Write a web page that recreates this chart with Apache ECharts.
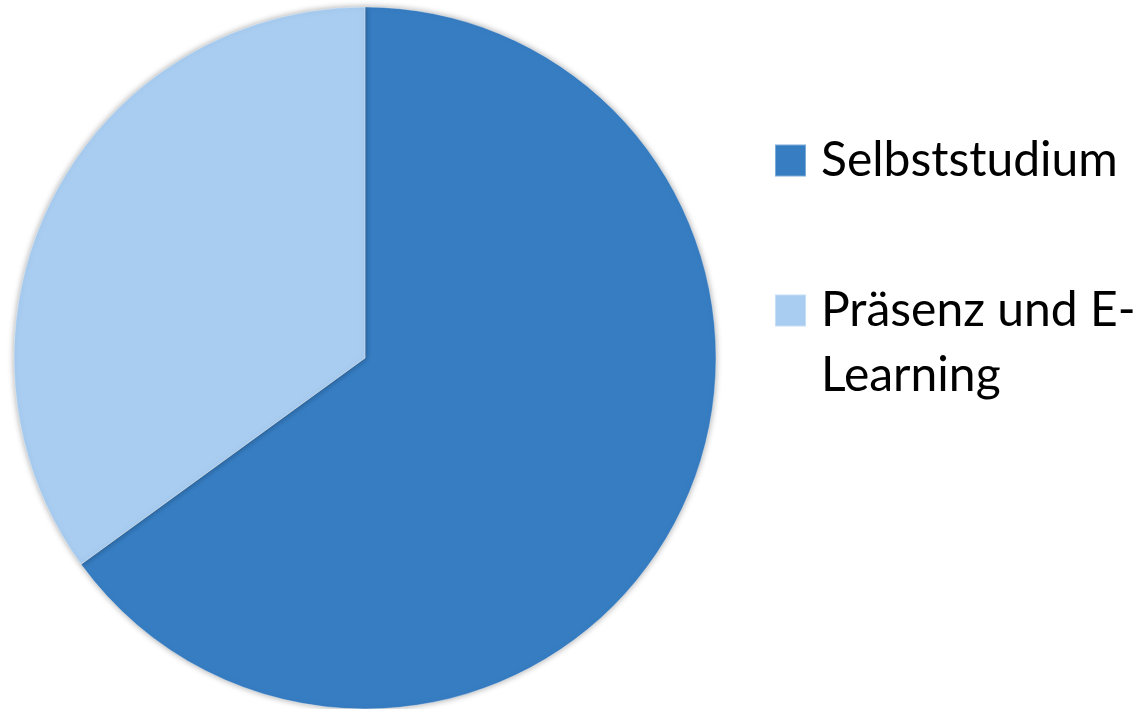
<!DOCTYPE html>
<html>
<head>
<meta charset="utf-8">
<script src="https://cdn.jsdelivr.net/npm/echarts@6/dist/echarts.min.js"></script>
<style>
  html, body { margin: 0; padding: 0; background: #fff; }
  #chart { width: 1143px; height: 709px; }
</style>
</head>
<body>
<div id="chart"></div>
<script>
// Anteile der Lernformen
const categories = ['Selbststudium', 'Präsenz und E-Learning']
const values = [65, 35]
const colors = ['#377dc2', '#a8cdf0']

const chart = echarts.init(document.getElementById('chart'))

const legendText = {
  fontFamily: 'Lato',
  fontSize: 48,
  color: '#000',
  lineHeight: 65,
  rich: {
    s: { width: 10, fontSize: 48, lineHeight: 65 }
  }
}

function iconStyle(c) {
  return {
    color: c,
    borderColor: 'rgba(0,0,0,0.15)',
    borderWidth: 1
  }
}

chart.setOption({
  backgroundColor: '#fff',
  animation: false,
  legend: [{
    orient: 'vertical',
    left: 774,
    top: 128,
    padding: 0,
    itemWidth: 31,
    itemHeight: 32,
    itemGap: 0,
    icon: 'rect',
    data: [categories[0]],
    formatter: function(name) {
      return '{s| }' + name
    },
    textStyle: legendText
  }, {
    orient: 'vertical',
    left: 774,
    top: 213,
    padding: 0,
    itemWidth: 31,
    itemHeight: 32,
    itemGap: 0,
    icon: 'rect',
    data: [categories[1]],
    formatter: function(name) {
      // leere erste Zeile, damit das Symbol an der ersten Textzeile steht
      return '{s| }\n{s| }' + name.replace('E-', 'E-\n{s| }')
    },
    textStyle: legendText
  }],
  series: [{
    type: 'pie',
    center: [365, 358],
    radius: 351,
    startAngle: 90,
    clockwise: true,
    label: { show: false },
    labelLine: { show: false },
    itemStyle: {
      borderColor: 'rgba(255,255,255,0.35)',
      borderWidth: 1,
      shadowBlur: 6,
      shadowColor: 'rgba(0,0,0,0.35)'
    },
    data: categories.map(function(name, i) {
      return {
        name: name,
        value: values[i],
        itemStyle: { color: colors[i] }
      }
    })
  }]
})
</script>
</body>
</html>
